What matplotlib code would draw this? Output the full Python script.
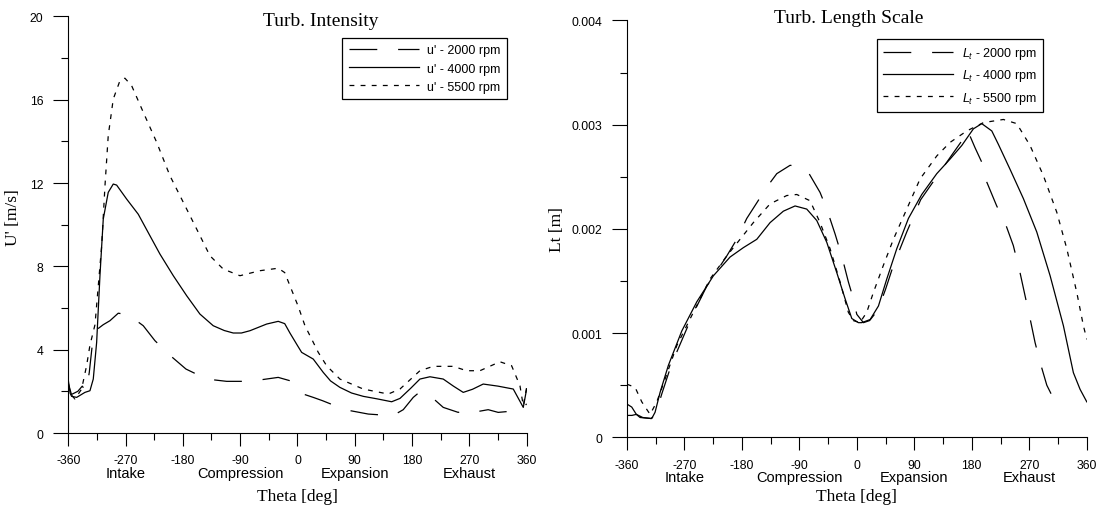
import numpy as np
import matplotlib
matplotlib.use("Agg")
import matplotlib.pyplot as plt
from matplotlib.ticker import MultipleLocator, FuncFormatter
from matplotlib.transforms import blended_transform_factory

plt.rcParams['font.family'] = ['Liberation Sans', 'DejaVu Sans']
plt.rcParams['axes.unicode_minus'] = False
plt.rcParams['lines.scale_dashes'] = False
plt.rcParams['mathtext.fontset'] = 'custom'
plt.rcParams['mathtext.it'] = 'Liberation Sans:italic'
plt.rcParams['mathtext.rm'] = 'Liberation Sans'

# ---- Turb. Intensity (u') ----
th_u2000 = [-360, -355, -345, -338, -332, -327, -322, -318, -305, -294.5, -281.5, -265.8, -242.2,
            -223.8, -197.6, -175.1, -142.6, -111.2, -74.6, -30.2, -11.8, -4, 9.1, 24.8, 39.5,
            74.6, 111.2, 134.8, 148, 166.2, 181.9, 192.4, 205.4, 229, 252.5, 265.7, 281.3,
            299.6, 315.3, 344.2, 354.7, 360]
u2000 = [2.4, 1.85, 2.0, 2.25, 2.0, 2.9, 4.3, 4.9, 5.2, 5.39, 5.75, 5.68, 5.15,
         4.43, 3.66, 3.07, 2.59, 2.48, 2.48, 2.67, 2.51, 2.19, 1.87, 1.71, 1.55,
         1.12, 0.91, 0.86, 0.80, 1.12, 1.71, 1.98, 1.87, 1.23, 0.99, 1.12, 1.02,
         1.12, 0.99, 1.07, 1.23, 1.4]

th_u4000 = [-360, -357, -354.7, -346.8, -333.8, -325.9, -320.7, -315.4, -310.2, -305, -297.2,
            -289.3, -284, -268.3, -250, -231.7, -216, -195, -174, -153.2, -132.3, -115, -100.8,
            -88, -74.6, -48.4, -30.2, -20, -11.8, 0, 6.6, 24.8, 40.5, 52, 66.7, 85, 103.4, 125,
            148, 161, 178, 192.4, 208.1, 229, 245, 260.4, 275, 291.8, 315, 339, 354.7, 360]
u4000 = [2.55, 1.9, 1.76, 1.71, 1.95, 2.03, 2.59, 4.35, 7.55, 10.27, 11.55,
         11.95, 11.9, 11.23, 10.5, 9.47, 8.59, 7.55, 6.59, 5.71, 5.15, 4.92, 4.80,
         4.80, 4.91, 5.23, 5.36, 5.25, 4.8, 4.2, 3.87, 3.55, 2.91, 2.5, 2.19, 1.92, 1.76, 1.64,
         1.50, 1.66, 2.15, 2.59, 2.70, 2.59, 2.25, 1.95, 2.1, 2.35, 2.25, 2.11, 1.23, 2.11]

th_u5500 = [-360, -357, -349.5, -339, -331.2, -326, -322, -318, -313, -307.5, -302.3, -297.2,
            -289.3, -278.8, -271, -260.4, -242.2, -221.2, -200.3, -179.4, -158.3, -137.5,
            -116.6, -90.3, -59, -30.2, -20, -11.8, 1.2, 11.8, 22.3, 32.7, 45.8, 66.7, 103.4,
            142.6, 161, 192.4, 213.3, 244.7, 265.7, 286.6, 318, 336.4, 349.5, 354.7, 360]
u5500 = [2.3, 1.9, 1.63, 2.11, 3.23, 4.2, 4.7, 5.2, 7.0, 8.99, 11.87, 14.27,
         16.03, 16.91, 17.03, 16.67, 15.4, 13.96, 12.35, 11.08, 9.79, 8.51,
         7.87, 7.55, 7.79, 7.91, 7.7, 7.07, 6.08, 5.15, 4.51, 3.87, 3.23, 2.59, 2.11,
         1.87, 2.11, 2.99, 3.20, 3.20, 2.99, 2.99, 3.42, 3.23, 2.27, 1.31, 2.19]

# ---- Turb. Length Scale (Lt) ----
th_l2000 = [-360, -352, -345, -335, -322, -315, -305, -290, -273.9, -255, -234.8, -203.5, -187.8,
            -172.2, -156.5, -140.9, -125.2, -104.4, -88.7, -75.6, -57.5, -46.9, -33.9, -23.5,
            -13.1, -5.4, 0, 10.4, 20, 33, 45, 57.3, 78.2, 100, 125, 150, 165, 172, 177.3, 185,
            195.6, 203.4, 219, 232, 245, 255.5, 263.3, 271.2, 279, 286.9, 297.4, 310.4]
lt2000 = [0.00021, 0.00021, 0.00022, 0.00019, 0.00018, 0.00022, 0.00042, 0.00070, 0.00093,
          0.00120, 0.00145, 0.00174, 0.00190, 0.00210, 0.00225, 0.00240, 0.00253, 0.00261,
          0.00260, 0.00254, 0.00235, 0.00219, 0.00195, 0.00174, 0.00149, 0.00133, 0.00118,
          0.00110, 0.00112, 0.00122, 0.00142, 0.00165, 0.00197, 0.00228, 0.00250, 0.00272,
          0.00285, 0.00295, 0.00289, 0.00278, 0.00264, 0.00245, 0.00222, 0.00206, 0.00184,
          0.00158, 0.00136, 0.00114, 0.00091, 0.00072, 0.00050, 0.00034]

th_l4000 = [-360, -352.2, -345, -339.2, -320.9, -315.7, -307.9, -294.9, -273.9, -250.4, -224.4,
            -198.3, -177.5, -156.5, -135.7, -114.9, -96.6, -78.3, -62.6, -46.9, -31.3, -18.3,
            -7.8, 2.6, 7.8, 20.9, 33.9, 47, 62.6, 80.8, 101.7, 125.2, 146, 164.3, 182.5, 195.6,
            211.3, 221.7, 240, 260.8, 281.7, 302.6, 323.4, 339, 349.5, 360]
lt4000 = [0.00032, 0.00029, 0.00022, 0.00019, 0.00018, 0.00024, 0.00043, 0.00069, 0.00102,
          0.00130, 0.00155, 0.00173, 0.00182, 0.00190, 0.00206, 0.00217, 0.00222, 0.00219,
          0.00208, 0.00187, 0.00158, 0.00133, 0.00114, 0.00110, 0.00110, 0.00113, 0.00126,
          0.00152, 0.00181, 0.00210, 0.00233, 0.00253, 0.00267, 0.00280, 0.00296, 0.00301,
          0.00294, 0.00281, 0.00257, 0.00229, 0.00197, 0.00155, 0.00107, 0.00062, 0.00046,
          0.00034]

th_l5500 = [-360, -347, -336.5, -323.5, -313, -300, -281.7, -255.7, -229.6, -203.5, -182.7,
            -161.9, -135.7, -109.6, -93.9, -73.1, -57.5, -41.8, -26.1, -13.2, -5.4, 5, 15.6,
            26, 41.6, 57.3, 78.2, 99.1, 125.2, 146, 172.2, 198.3, 229.4, 250.4, 271.2, 292.1,
            313, 328.7, 344.3, 354.7, 360]
lt5500 = [0.00051, 0.00048, 0.00034, 0.00022, 0.00034, 0.00056, 0.00088, 0.00120, 0.00152,
          0.00174, 0.00190, 0.00206, 0.00224, 0.00232, 0.00233, 0.00227, 0.00206, 0.00181,
          0.00149, 0.00120, 0.00112, 0.00110, 0.00120, 0.00139, 0.00165, 0.00190, 0.00219,
          0.00248, 0.00270, 0.00283, 0.00294, 0.00302, 0.00305, 0.00301, 0.00280, 0.00251,
          0.00216, 0.00181, 0.00139, 0.00107, 0.00094]

phase_pos = [-270, -90, 90, 270]
phase_names = ['Intake', 'Compression', 'Expansion', 'Exhaust']

long_dash = (0, (20, 15))
short_dash = (0, (3.5, 4.5))
lw = 0.9

serif = ['Liberation Serif', 'DejaVu Serif']

fig = plt.figure(figsize=(10.99, 5.10), dpi=100)
ax1 = fig.add_axes([0.0621, 0.149, 0.4171, 0.817])
ax2 = fig.add_axes([0.5703, 0.1406, 0.4186, 0.8173])


def style_axes(ax, ymax, ymajor, yminor, phase_y, xlabel_y):
    ax.set_xlim(-360, 360)
    ax.set_ylim(0, ymax)
    for s in ['top', 'right']:
        ax.spines[s].set_visible(False)
    for s in ['left', 'bottom']:
        ax.spines[s].set_linewidth(0.8)
    ax.xaxis.set_major_locator(MultipleLocator(90))
    ax.xaxis.set_minor_locator(MultipleLocator(45))
    ax.yaxis.set_major_locator(MultipleLocator(ymajor))
    ax.yaxis.set_minor_locator(MultipleLocator(yminor))
    ax.tick_params(axis='x', which='major', length=9.4, width=0.8, pad=6, labelsize=8.8)
    ax.tick_params(axis='x', which='minor', length=4.7, width=0.8)
    ax.tick_params(axis='y', which='major', length=10.8, width=0.8, pad=7, labelsize=8.8)
    ax.tick_params(axis='y', which='minor', length=5, width=0.8)
    trans = blended_transform_factory(ax.transData, ax.transAxes)
    for p, name in zip(phase_pos, phase_names):
        ax.text(p, phase_y, name, transform=trans, ha='center', va='center', fontsize=10.5)
    ax.set_xlabel('Theta [deg]', family=serif, fontsize=12.5, va='center')
    ax.xaxis.set_label_coords(0.5, xlabel_y)


# left panel
style_axes(ax1, 20, 4, 2, -0.097, -0.152)
ax1.plot(th_u2000, u2000, color='black', lw=lw, linestyle=long_dash, label="u' - 2000 rpm")
ax1.plot(th_u4000, u4000, color='black', lw=lw, linestyle='-', label="u' - 4000 rpm")
ax1.plot(th_u5500, u5500, color='black', lw=lw, linestyle=short_dash, label="u' - 5500 rpm")
ax1.set_ylabel("U' [m/s]", family=serif, fontsize=12.5, va='center')
ax1.yaxis.set_label_coords(-0.121, 0.52)
ax1.text(0.551, 0.991, 'Turb. Intensity', transform=ax1.transAxes, ha='center', va='center',
         family=serif, fontsize=14)
leg1 = ax1.legend(loc='upper right', bbox_to_anchor=(0.957, 0.948), borderaxespad=0,
                  fontsize=9, handlelength=5.6, handletextpad=0.7, labelspacing=0.5,
                  borderpad=0.5, fancybox=False, framealpha=1, edgecolor='black')
leg1.get_frame().set_linewidth(0.9)

# right panel
style_axes(ax2, 0.004, 0.001, 0.0005, -0.095, -0.1416)
ax2.yaxis.set_major_formatter(FuncFormatter(lambda v, pos: '0' if abs(v) < 1e-12 else f'{v:.3f}'))
ax2.plot(th_l2000, lt2000, color='black', lw=lw, linestyle=long_dash, label=r"$L_t$ - 2000 rpm")
ax2.plot(th_l4000, lt4000, color='black', lw=lw, linestyle='-', label=r"$L_t$ - 4000 rpm")
ax2.plot(th_l5500, lt5500, color='black', lw=lw, linestyle=short_dash, label=r"$L_t$ - 5500 rpm")
ax2.set_ylabel('Lt [m]', family=serif, fontsize=12.5, va='center')
ax2.yaxis.set_label_coords(-0.152, 0.5)
ax2.text(0.483, 1.006, 'Turb. Length Scale', transform=ax2.transAxes, ha='center', va='center',
         family=serif, fontsize=14)
leg2 = ax2.legend(loc='upper right', bbox_to_anchor=(0.904, 0.956), borderaxespad=0,
                  fontsize=9, handlelength=5.6, handletextpad=0.7, labelspacing=0.5,
                  borderpad=0.5, fancybox=False, framealpha=1, edgecolor='black')
leg2.get_frame().set_linewidth(0.9)

fig.savefig('out.png', dpi=100)
